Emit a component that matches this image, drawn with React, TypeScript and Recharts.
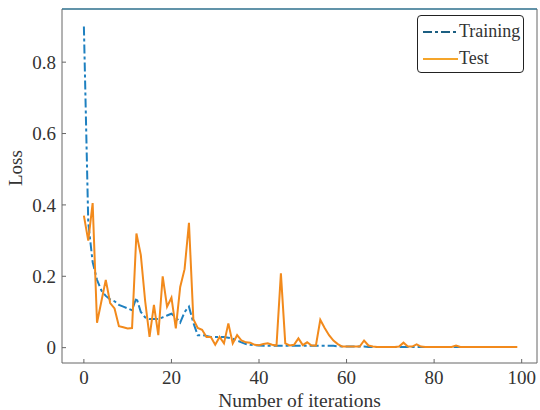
import { LineChart, Line, XAxis, YAxis, ReferenceLine } from "recharts";

// loss per iteration
const training = [
  0.9, 0.35, 0.24, 0.19, 0.16, 0.145, 0.135, 0.13, 0.12, 0.115,
  0.11, 0.105, 0.14, 0.1, 0.085, 0.08, 0.08, 0.08, 0.085, 0.09,
  0.095, 0.085, 0.07, 0.1, 0.115, 0.07, 0.035, 0.035, 0.033, 0.03,
  0.03, 0.03, 0.03, 0.028, 0.025, 0.02, 0.015, 0.01, 0.008, 0.007,
  0.006, 0.005, 0.005, 0.005, 0.005, 0.005, 0.005, 0.005, 0.005, 0.005,
  0.005, 0.005, 0.005, 0.005, 0.005, 0.005, 0.005, 0.005, 0.004, 0.003,
  0.003, 0.003, 0.003, 0.003, 0.003, 0.002, 0.002, 0.002, 0.002, 0.002,
  0.002, 0.002, 0.002, 0.002, 0.002, 0.002, 0.002, 0.002, 0.002, 0.002,
  0.002, 0.002, 0.002, 0.002, 0.002, 0.002, 0.002, 0.002, 0.002, 0.002,
  0.002, 0.002, 0.002, 0.002, 0.002, 0.002, 0.002, 0.002, 0.002, 0.002,
];

const test = [
  0.37, 0.3, 0.405, 0.07, 0.13, 0.19, 0.125, 0.11, 0.06, 0.057,
  0.054, 0.055, 0.32, 0.26, 0.13, 0.03, 0.12, 0.035, 0.2, 0.115,
  0.14, 0.054, 0.17, 0.22, 0.35, 0.08, 0.055, 0.05, 0.03, 0.03,
  0.008, 0.03, 0.012, 0.068, 0.012, 0.035, 0.02, 0.015, 0.014, 0.008,
  0.007, 0.01, 0.012, 0.008, 0.006, 0.208, 0.012, 0.006, 0.008, 0.026,
  0.007, 0.015, 0.006, 0.006, 0.078, 0.055, 0.035, 0.02, 0.01, 0.003,
  0.003, 0.003, 0.003, 0.003, 0.02, 0.006, 0.003, 0.002, 0.002, 0.002,
  0.002, 0.002, 0.003, 0.014, 0.003, 0.003, 0.009, 0.003, 0.002, 0.002,
  0.002, 0.002, 0.002, 0.002, 0.002, 0.006, 0.002, 0.002, 0.002, 0.002,
  0.002, 0.002, 0.002, 0.002, 0.002, 0.002, 0.002, 0.002, 0.002, 0.002,
];

const xTicks = [0, 20, 40, 60, 80, 100];
const yTicks = [0, 0.2, 0.4, 0.6, 0.8];
const xDomain: [number, number] = [-5, 103.5];
const yDomain: [number, number] = [-0.043, 0.949];

const data = training.map((t, i) => ({ iter: i, training: t, test: test[i] }));

const FONT = "'Liberation Serif'";
const TRAIN_COLOR = "#1e80c0";
const TEST_COLOR = "#f28a1c";

function LegendBox() {
  const rows = [
    { name: "Training", color: "#1c5f82", dash: "9 3 3 3" },
    { name: "Test", color: "#f5a52a", dash: undefined },
  ];
  return (
    <div
      style={{
        position: "absolute",
        left: 417,
        top: 15,
        width: 107,
        height: 58,
        border: "1.5px solid #222",
        borderRadius: 4,
        background: "#fff",
        boxSizing: "border-box",
        padding: "2px 0 0 5px",
        fontFamily: FONT,
        fontSize: 18,
        color: "#333",
      }}
    >
      {rows.map((r) => (
        <div key={r.name} style={{ display: "flex", alignItems: "center", height: 27 }}>
          <svg width={35} height={6} style={{ marginRight: 1 }}>
            <line x1={0} y1={3} x2={35} y2={3} stroke={r.color} strokeWidth={2} strokeDasharray={r.dash} />
          </svg>
          <span>{r.name}</span>
        </div>
      ))}
    </div>
  );
}

export default function App() {
  return (
    <div style={{ position: "absolute", left: 0, top: 0, width: 540, height: 410, background: "#fff" }}>
      <LineChart width={540} height={410} data={data} margin={{ top: 9, right: 3, bottom: 0, left: 0 }}>
        <XAxis
          dataKey="iter"
          type="number"
          domain={xDomain}
          ticks={xTicks}
          allowDataOverflow
          height={47}
          stroke="#666"
          tickSize={-4}
          tickMargin={12}
          tick={{ fontSize: 19, fill: "#333", fontFamily: FONT }}
          label={{ value: "Number of iterations", position: "insideBottom", offset: 3, fontSize: 19.5, fill: "#333", fontFamily: FONT }}
        />
        <YAxis
          type="number"
          domain={yDomain}
          ticks={yTicks}
          allowDataOverflow
          width={62}
          stroke="#666"
          tickSize={-4}
          tickMargin={10}
          tickFormatter={(v: number) => String(v)}
          tick={{ fontSize: 19, fill: "#333", fontFamily: FONT }}
          label={{ value: "Loss", angle: -90, position: "insideLeft", offset: 15, fontSize: 19, fill: "#333", fontFamily: FONT }}
        />
        {/* box edges: top is drawn darker teal in the original */}
        <ReferenceLine y={yDomain[1]} stroke="#2d6f8c" strokeWidth={1.5} />
        <ReferenceLine x={xDomain[1]} stroke="#666" />
        <Line
          type="linear"
          dataKey="training"
          stroke={TRAIN_COLOR}
          strokeWidth={2}
          strokeDasharray="9 3 3 3"
          dot={false}
          isAnimationActive={false}
        />
        <Line
          type="linear"
          dataKey="test"
          stroke={TEST_COLOR}
          strokeWidth={2}
          dot={false}
          isAnimationActive={false}
        />
      </LineChart>
      <LegendBox />
    </div>
  );
}
